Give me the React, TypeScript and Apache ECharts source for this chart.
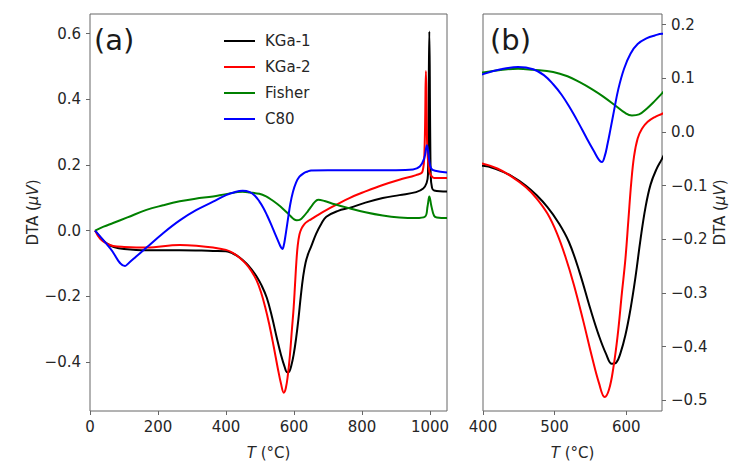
import React, { useEffect, useRef } from "react";
import * as echarts from "echarts";

// ---- data (temperature °C, DTA µV) ----
const kga1T = [15, 30, 50, 70, 100, 166, 264, 362, 400, 420, 440, 460, 475, 490, 505, 520, 535, 550, 562, 572, 580, 586, 592, 599, 606, 613, 620, 627, 634, 642, 650, 665, 680, 695, 730, 763, 810, 861, 910, 959, 980, 990, 994, 998, 1002, 1006, 1012, 1050];
const kga1V = [0, -0.02, -0.04, -0.05, -0.056, -0.06, -0.06, -0.062, -0.063, -0.07, -0.082, -0.1, -0.118, -0.14, -0.168, -0.205, -0.262, -0.33, -0.38, -0.414, -0.432, -0.43, -0.412, -0.378, -0.33, -0.27, -0.2, -0.14, -0.098, -0.07, -0.05, -0.01, 0.02, 0.042, 0.06, 0.069, 0.085, 0.099, 0.108, 0.117, 0.128, 0.145, 0.17, 0.607, 0.17, 0.13, 0.122, 0.119];

const kga2T = [15, 30, 50, 68, 100, 166, 264, 320, 362, 400, 420, 440, 460, 475, 490, 503, 515, 527, 540, 552, 562, 570, 576, 582, 588, 594, 599, 603, 607, 611, 616, 622, 630, 640, 650, 665, 700, 763, 812, 861, 910, 959, 978, 984, 988, 992, 998, 1005, 1013, 1050];
const kga2V = [0, -0.025, -0.04, -0.047, -0.05, -0.052, -0.044, -0.047, -0.052, -0.059, -0.068, -0.083, -0.103, -0.124, -0.152, -0.188, -0.232, -0.285, -0.352, -0.418, -0.468, -0.494, -0.48, -0.44, -0.38, -0.3, -0.235, -0.165, -0.095, -0.045, -0.012, 0.006, 0.019, 0.028, 0.034, 0.044, 0.065, 0.099, 0.12, 0.139, 0.155, 0.169, 0.18, 0.25, 0.486, 0.25, 0.18, 0.165, 0.16, 0.16];

const fisherT = [15, 40, 68, 110, 166, 215, 264, 310, 362, 400, 449, 470, 498, 518, 535, 552, 568, 587, 598, 608, 618, 629, 640, 650, 660, 671, 690, 720, 763, 810, 861, 910, 959, 985, 993, 998, 1004, 1012, 1020, 1050];
const fisherV = [0, 0.012, 0.023, 0.04, 0.063, 0.077, 0.089, 0.097, 0.104, 0.111, 0.118, 0.116, 0.112, 0.104, 0.093, 0.08, 0.066, 0.047, 0.036, 0.031, 0.033, 0.044, 0.058, 0.072, 0.086, 0.094, 0.09, 0.08, 0.068, 0.056, 0.046, 0.04, 0.038, 0.042, 0.075, 0.104, 0.075, 0.045, 0.04, 0.038];

const c80T = [15, 60, 103, 115, 135, 166, 215, 264, 312, 362, 400, 425, 449, 470, 485, 498, 510, 521, 533, 545, 555, 562, 566, 570, 574, 578, 583, 589, 597, 606, 616, 629, 640, 650, 700, 800, 900, 950, 970, 983, 991, 997, 1003, 1015, 1050];
const c80V = [0, -0.055, -0.108, -0.098, -0.08, -0.052, -0.008, 0.031, 0.062, 0.088, 0.108, 0.117, 0.121, 0.117, 0.106, 0.089, 0.069, 0.046, 0.018, -0.012, -0.036, -0.052, -0.056, -0.045, -0.022, 0.005, 0.04, 0.08, 0.118, 0.146, 0.164, 0.175, 0.18, 0.183, 0.184, 0.184, 0.184, 0.186, 0.195, 0.22, 0.26, 0.22, 0.19, 0.182, 0.177];

const seriesNames = ["KGa-1", "KGa-2", "Fisher", "C80"];
const seriesColors = ["#000000", "#ff0000", "#008000", "#0000ff"];
const seriesTemps = [kga1T, kga2T, fisherT, c80T];
const seriesValues = [kga1V, kga2V, fisherV, c80V];

const leftXTicks = [0, 200, 400, 600, 800, 1000];
const leftYTicks = [-0.4, -0.2, 0, 0.2, 0.4, 0.6];
const rightXTicks = [400, 500, 600];
const rightYTicks = [-0.5, -0.4, -0.3, -0.2, -0.1, 0, 0.1, 0.2];

const FONT = "DejaVu Sans";
const TXT = "#262626";
const FRAME = "#666666";
const FS = 15;

const fmtY = (v: number) => {
  const s = Math.abs(v).toFixed(1);
  return v < -1e-9 ? "\u2212" + s : s;
};

export default function App() {
  const ref = useRef<HTMLDivElement>(null);
  useEffect(() => {
    if (!ref.current) return;
    const chart = echarts.init(ref.current, null, { renderer: "svg" });

    const labelStyle = { fontFamily: FONT, fontSize: FS, color: TXT };
    const nameStyle = {
      fontFamily: FONT,
      fontSize: FS,
      color: TXT,
      rich: { i: { fontFamily: FONT, fontSize: FS, color: TXT, fontStyle: "italic" } },
    };
    const tick = { show: true, length: 4, inside: false, lineStyle: { color: FRAME, width: 1 } };
    const line = { show: false, onZero: false };

    const series: any[] = [];
    for (let g = 0; g < 2; g++) {
      for (let s = 0; s < 4; s++) {
        series.push({
          type: "line",
          name: seriesNames[s],
          xAxisIndex: g,
          yAxisIndex: g,
          data: seriesTemps[s].map((t, k) => [t, seriesValues[s][k]]),
          showSymbol: false,
          symbol: "none",
          smooth: 0.4,
          clip: true,
          lineStyle: { color: seriesColors[s], width: 2 },
          itemStyle: { color: seriesColors[s] },
        });
      }
    }

    chart.setOption({
      animation: false,
      backgroundColor: "#ffffff",
      grid: [
        { left: 90, top: 14, width: 357, height: 399, show: true, borderColor: FRAME, borderWidth: 1, backgroundColor: "transparent" },
        { left: 483, top: 14, width: 179, height: 398, show: true, borderColor: FRAME, borderWidth: 1, backgroundColor: "transparent" },
      ],
      legend: {
        data: seriesNames,
        orient: "vertical",
        left: 219,
        top: 27,
        icon: "rect",
        itemWidth: 31,
        itemHeight: 2,
        itemGap: 8,
        textStyle: { fontFamily: FONT, fontSize: FS, color: TXT, lineHeight: 18, padding: [0, 0, 0, 5] },
      },
      xAxis: [
        {
          gridIndex: 0, type: "value", min: 0, max: 1050,
          axisLine: line, splitLine: { show: false },
          axisTick: { ...tick, customValues: leftXTicks },
          axisLabel: { ...labelStyle, margin: 8, customValues: leftXTicks, formatter: (v: number) => String(v) },
          name: "{i|T} (°C)", nameLocation: "middle", nameGap: 34, nameTextStyle: nameStyle,
        },
        {
          gridIndex: 1, type: "value", min: 400, max: 650,
          axisLine: line, splitLine: { show: false },
          axisTick: { ...tick, customValues: rightXTicks },
          axisLabel: { ...labelStyle, margin: 8, customValues: rightXTicks, formatter: (v: number) => String(v) },
          name: "{i|T} (°C)", nameLocation: "middle", nameGap: 34, nameTextStyle: nameStyle,
        },
      ],
      yAxis: [
        {
          gridIndex: 0, type: "value", min: -0.55, max: 0.66,
          axisLine: line, splitLine: { show: false },
          axisTick: { ...tick, customValues: leftYTicks },
          axisLabel: { ...labelStyle, margin: 9, customValues: leftYTicks, formatter: fmtY },
          name: "DTA ({i|μV})", nameLocation: "middle", nameGap: 44, nameRotate: 90, nameTextStyle: nameStyle,
        },
        {
          gridIndex: 1, type: "value", position: "right", min: -0.52, max: 0.22,
          axisLine: line, splitLine: { show: false },
          axisTick: { ...tick, customValues: rightYTicks },
          axisLabel: { ...labelStyle, margin: 9, customValues: rightYTicks, formatter: fmtY },
          name: "DTA ({i|μV})", nameLocation: "middle", nameGap: 50, nameRotate: 90, nameTextStyle: nameStyle,
        },
      ],
      graphic: [
        { type: "text", left: 94, top: 25, style: { text: "(a)", fontFamily: FONT, fontSize: 29, fill: "#1a1a1a" } },
        { type: "text", left: 490, top: 25, style: { text: "(b)", fontFamily: FONT, fontSize: 29, fill: "#1a1a1a" } },
      ],
      series,
    });
    return () => chart.dispose();
  }, []);
  return (
    <div
      ref={ref}
      style={{ position: "fixed", left: 0, top: 0, width: 736, height: 465, background: "#fff" }}
    />
  );
}
